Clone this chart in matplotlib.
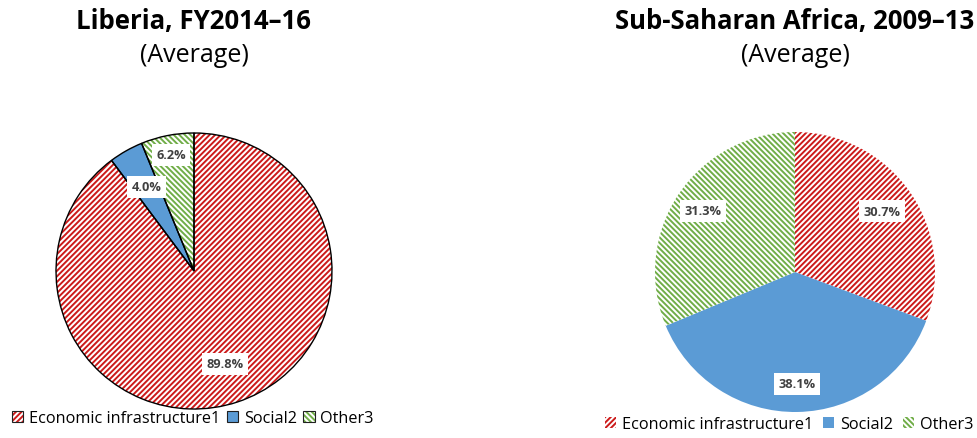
"""
Composition of aid commitments: Liberia vs Sub-Saharan Africa, two hatched pies.
"""

import matplotlib
matplotlib.use("Agg")
import numpy as np
import matplotlib.pyplot as plt
from matplotlib.patches import Patch
from matplotlib.legend_handler import HandlerTuple

plt.rcParams["font.family"] = ["Open Sans", "DejaVu Sans"]
plt.rcParams["hatch.linewidth"] = 1.4

categories = ["Economic infrastructure1", "Social2", "Other3"]
liberia_values = [89.8, 4.0, 6.2]
ssa_values = [30.7, 38.1, 31.3]
titles = ["Liberia, FY2014\u201316", "Sub-Saharan Africa, 2009\u201313"]
subtitle = "(Average)"

colors = ["#CC1A1A", "#5B9BD5", "#70AD47"]
hatches = ["//////", None, "\\\\\\\\\\\\"]

W, H = 977, 439
fig = plt.figure(figsize=(W / 100, H / 100), dpi=100)


def px_axes(cx, cy, r):
    return fig.add_axes([(cx - r) / W, (H - cy - r) / H, 2 * r / W, 2 * r / H])


def draw_pie(ax, values, edges, label_dist):
    wedges, _ = ax.pie(values, startangle=90, counterclock=False, radius=1,
                       colors=["white"] * len(values))
    for w, c, h in zip(wedges, colors, hatches):
        if h:
            w.set_facecolor("white")
            w.set_hatch(h)
        else:
            w.set_facecolor(c)
        w.set_edgecolor(c)
        w.set_linewidth(0)
    if edges:
        ax.pie(values, startangle=90, counterclock=False, radius=1,
               colors=["none"] * len(values),
               wedgeprops=dict(edgecolor="black", linewidth=1.0))
    total = sum(values)
    for w, v, d in zip(wedges, values, label_dist):
        ang = np.deg2rad((w.theta1 + w.theta2) / 2)
        ax.text(d * np.cos(ang), d * np.sin(ang), f"{v / total * 100:.1f}%",
                ha="center", va="center", fontsize=9.2, fontweight="bold",
                color="#404040",
                bbox=dict(boxstyle="square,pad=0.35", fc="white", ec="none"))
    ax.set_xlim(-1.0, 1.0)
    ax.set_ylim(-1.0, 1.0)
    ax.set_aspect("equal")
    ax.axis("off")


def legend_handles(edges):
    handles = []
    for c, h in zip(colors, hatches):
        if h:
            p = Patch(facecolor="white", edgecolor=c, hatch=h, linewidth=0)
        else:
            p = Patch(facecolor=c, edgecolor=c, linewidth=0)
        if edges:
            p = (p, Patch(facecolor="none", edgecolor="#202020", linewidth=0.8))
        handles.append(p)
    return handles


ax1 = px_axes(194, 272, 138)
draw_pie(ax1, liberia_values, True, [0.71, 0.7, 0.86])
ax2 = px_axes(795, 273, 140)
draw_pie(ax2, ssa_values, False, [0.76, 0.8, 0.79])

for cx, t in zip([194, 795], titles):
    fig.text(cx / W, 1 - 22 / H, t, ha="center", va="center",
             fontsize=18.5, fontweight="bold")
    fig.text(cx / W, 1 - 56 / H, subtitle, ha="center", va="center", fontsize=18)

for x0, y0, edges, colsp in [(12, 419, True, 0.4), (605, 425, False, 0.6)]:
    fig.legend(handles=legend_handles(edges), labels=categories,
               handler_map={tuple: HandlerTuple(ndivide=1, pad=0)},
               loc="center left", bbox_to_anchor=(x0 / W, 1 - y0 / H),
               ncol=3, frameon=False, fontsize=11.7, handlelength=0.7,
               handleheight=0.7, handletextpad=0.35, columnspacing=colsp,
               borderaxespad=0, borderpad=0)

fig.savefig("out.png", dpi=100)
